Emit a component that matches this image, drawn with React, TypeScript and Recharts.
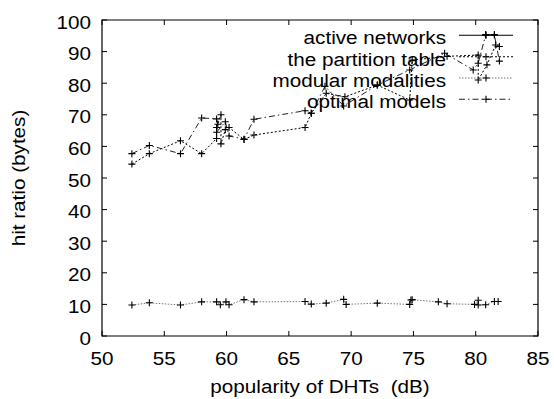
import React from 'react';
import { LineChart, Line, XAxis, YAxis, ReferenceArea, Legend } from 'recharts';

const xTicks = [50, 55, 60, 65, 70, 75, 80, 85];
const yTicks = [0, 10, 20, 30, 40, 50, 60, 70, 80, 90, 100];

const activeNetworks = [
  { x: 80.8, y: 95.3 },
  { x: 81.5, y: 95.3 },
];

const partitionTable = [
  { x: 52.4, y: 54.4 },
  { x: 53.8, y: 57.7 },
  { x: 56.3, y: 61.8 },
  { x: 58.0, y: 57.7 },
  { x: 59.2, y: 62.5 },
  { x: 59.2, y: 66.0 },
  { x: 59.55, y: 70.0 },
  { x: 59.55, y: 60.8 },
  { x: 59.9, y: 65.3 },
  { x: 60.2, y: 66.0 },
  { x: 61.4, y: 62.2 },
  { x: 62.2, y: 63.6 },
  { x: 66.3, y: 66.0 },
  { x: 66.8, y: 70.5 },
  { x: 68.0, y: 76.8 },
  { x: 69.5, y: 75.7 },
  { x: 72.1, y: 79.4 },
  { x: 74.7, y: 74.7 },
  { x: 74.9, y: 87.3 },
  { x: 77.7, y: 88.5 },
  { x: 80.2, y: 88.9 },
  { x: 80.2, y: 81.0 },
  { x: 80.9, y: 85.8 },
  { x: 81.6, y: 92.1 },
  { x: 81.9, y: 91.6 },
];

const modularModalities = [
  { x: 52.4, y: 9.8 },
  { x: 53.8, y: 10.5 },
  { x: 56.3, y: 9.8 },
  { x: 58.0, y: 10.8 },
  { x: 59.2, y: 10.8 },
  { x: 59.5, y: 9.9 },
  { x: 59.95, y: 10.8 },
  { x: 60.2, y: 9.9 },
  { x: 61.4, y: 11.5 },
  { x: 62.2, y: 10.8 },
  { x: 66.3, y: 10.9 },
  { x: 66.8, y: 10.1 },
  { x: 68.0, y: 10.4 },
  { x: 69.4, y: 11.6 },
  { x: 69.6, y: 10.0 },
  { x: 72.1, y: 10.4 },
  { x: 74.7, y: 10.0 },
  { x: 74.8, y: 11.4 },
  { x: 74.9, y: 11.5 },
  { x: 77.0, y: 10.8 },
  { x: 77.7, y: 10.2 },
  { x: 79.9, y: 10.0 },
  { x: 80.2, y: 11.3 },
  { x: 80.2, y: 9.8 },
  { x: 80.8, y: 9.9 },
  { x: 81.5, y: 10.9 },
  { x: 81.8, y: 10.9 },
];

const optimalModels = [
  { x: 52.4, y: 57.7 },
  { x: 53.8, y: 60.3 },
  { x: 56.3, y: 57.7 },
  { x: 58.0, y: 69.0 },
  { x: 59.2, y: 68.7 },
  { x: 59.3, y: 67.0 },
  { x: 59.2, y: 64.5 },
  { x: 59.9, y: 67.8 },
  { x: 60.2, y: 63.3 },
  { x: 61.4, y: 62.3 },
  { x: 62.2, y: 68.6 },
  { x: 66.3, y: 71.3 },
  { x: 66.8, y: 70.5 },
  { x: 67.9, y: 79.0 },
  { x: 69.4, y: 72.8 },
  { x: 72.1, y: 79.4 },
  { x: 74.7, y: 84.2 },
  { x: 77.5, y: 89.5 },
  { x: 79.8, y: 84.2 },
  { x: 80.2, y: 86.3 },
  { x: 80.8, y: 95.3 },
  { x: 81.5, y: 95.3 },
  { x: 81.9, y: 87.0 },
];

const seriesNames = ['active networks', 'the partition table', 'modular modalities', 'optimal models'];

const SERIES = [
  { name: seriesNames[0], data: activeNetworks, stroke: '#000', dash: undefined as string | undefined },
  { name: seriesNames[1], data: partitionTable, stroke: '#000', dash: '2 2' },
  { name: seriesNames[2], data: modularModalities, stroke: '#777', dash: '1.5 1.5' },
  { name: seriesNames[3], data: optimalModels, stroke: '#222', dash: '6 3 1.5 3' },
];

const FONT = '"Liberation Sans", Arial, Helvetica, sans-serif';
const FS = 18.8;
const SX = 1.1;

const PLOT_LEFT = 102;
const PLOT_RIGHT = 538;
const PLOT_TOP = 20;
const PLOT_BOTTOM = 336;
const TICK = 5;

function SText({ x, y, anchor = 'start', rotate = 0, children }: any) {
  const tr = `translate(${x},${y})${rotate ? ` rotate(${rotate})` : ''} scale(${SX},1)`;
  return (
    <text transform={tr} x={0} y={0} textAnchor={anchor} fontFamily={FONT} fontSize={FS} fill="#000" style={{ whiteSpace: 'pre' }}>
      {children}
    </text>
  );
}

const XTick = (props: any) => {
  const { x, payload } = props;
  return (
    <g>
      <line x1={x} x2={x} y1={PLOT_BOTTOM} y2={PLOT_BOTTOM - TICK} stroke="#000" strokeWidth={1} />
      <line x1={x} x2={x} y1={PLOT_TOP} y2={PLOT_TOP + TICK} stroke="#000" strokeWidth={1} />
      <SText x={x} y={365} anchor="middle">{payload.value}</SText>
    </g>
  );
};

const YTick = (props: any) => {
  const { y, payload } = props;
  return (
    <g>
      <line x1={PLOT_LEFT} x2={PLOT_LEFT + TICK} y1={y} y2={y} stroke="#000" strokeWidth={1} />
      <line x1={PLOT_RIGHT} x2={PLOT_RIGHT - TICK} y1={y} y2={y} stroke="#000" strokeWidth={1} />
      <SText x={91} y={y + 8.5} anchor="end">{payload.value}</SText>
    </g>
  );
};

const plusPath = (cx: number, cy: number) => `M${cx - 3.5},${cy}h7M${cx},${cy - 3.5}v7`;

const PlusDot = (props: any) => {
  const { cx, cy, index } = props;
  if (cx == null || cy == null) return <g key={`n${index}`} />;
  return <path key={`p${index}`} d={plusPath(cx, cy)} stroke="#000" strokeWidth={1.1} fill="none" />;
};

const LEG_LEFT = 260;
const LEG_TOP = 20;
const rowY = [15.3, 36.8, 58, 79.2];

const renderLegend = () => (
  <svg width={280} height={95} style={{ display: 'block', overflow: 'visible' }}>
    {SERIES.map((s, i) => (
      <g key={s.name}>
        <SText x={446 - LEG_LEFT} y={rowY[i] + 9} anchor="end">{s.name}</SText>
        <line
          x1={459 - LEG_LEFT}
          x2={513 - LEG_LEFT}
          y1={rowY[i]}
          y2={rowY[i]}
          stroke={s.stroke}
          strokeWidth={1.1}
          strokeDasharray={s.dash}
        />
        <path d={plusPath(486 - LEG_LEFT, rowY[i])} stroke="#000" strokeWidth={1.1} fill="none" />
      </g>
    ))}
  </svg>
);

export default function App() {
  return (
    <div style={{ position: 'absolute', left: 0, top: 0, width: 554, height: 399, background: '#fff' }}>
      <LineChart width={554} height={399} margin={{ top: 20, right: 16, left: 0, bottom: 13 }}>
        <XAxis
          dataKey="x"
          type="number"
          domain={[50, 85]}
          ticks={xTicks}
          interval={0}
          height={50}
          axisLine={false}
          tickLine={false}
          tick={XTick}
          allowDataOverflow
        />
        <YAxis
          type="number"
          domain={[0, 100]}
          ticks={yTicks}
          interval={0}
          width={102}
          axisLine={false}
          tickLine={false}
          tick={YTick}
          allowDataOverflow
        />
        <ReferenceArea x1={50} x2={85} y1={0} y2={100} fill="none" stroke="#000" strokeWidth={1.2} ifOverflow="visible" />
        {SERIES.map((s) => (
          <Line
            key={s.name}
            name={s.name}
            data={s.data}
            dataKey="y"
            type="linear"
            stroke={s.stroke}
            strokeWidth={1}
            strokeDasharray={s.dash}
            dot={PlusDot}
            activeDot={false}
            isAnimationActive={false}
          />
        ))}
        <Legend
          layout="vertical"
          align="center"
          verticalAlign="middle"
          wrapperStyle={{ position: 'absolute', left: LEG_LEFT, top: LEG_TOP, width: 280, height: 95, margin: 0, padding: 0 }}
          content={renderLegend}
        />
      </LineChart>
      <svg width={554} height={399} style={{ position: 'absolute', left: 0, top: 0, pointerEvents: 'none' }}>
        <SText x={320} y={393} anchor="middle">{'popularity of DHTs\u00a0 (dB)'}</SText>
        <SText x={25} y={178} anchor="middle" rotate={-90}>hit ratio (bytes)</SText>
      </svg>
    </div>
  );
}
